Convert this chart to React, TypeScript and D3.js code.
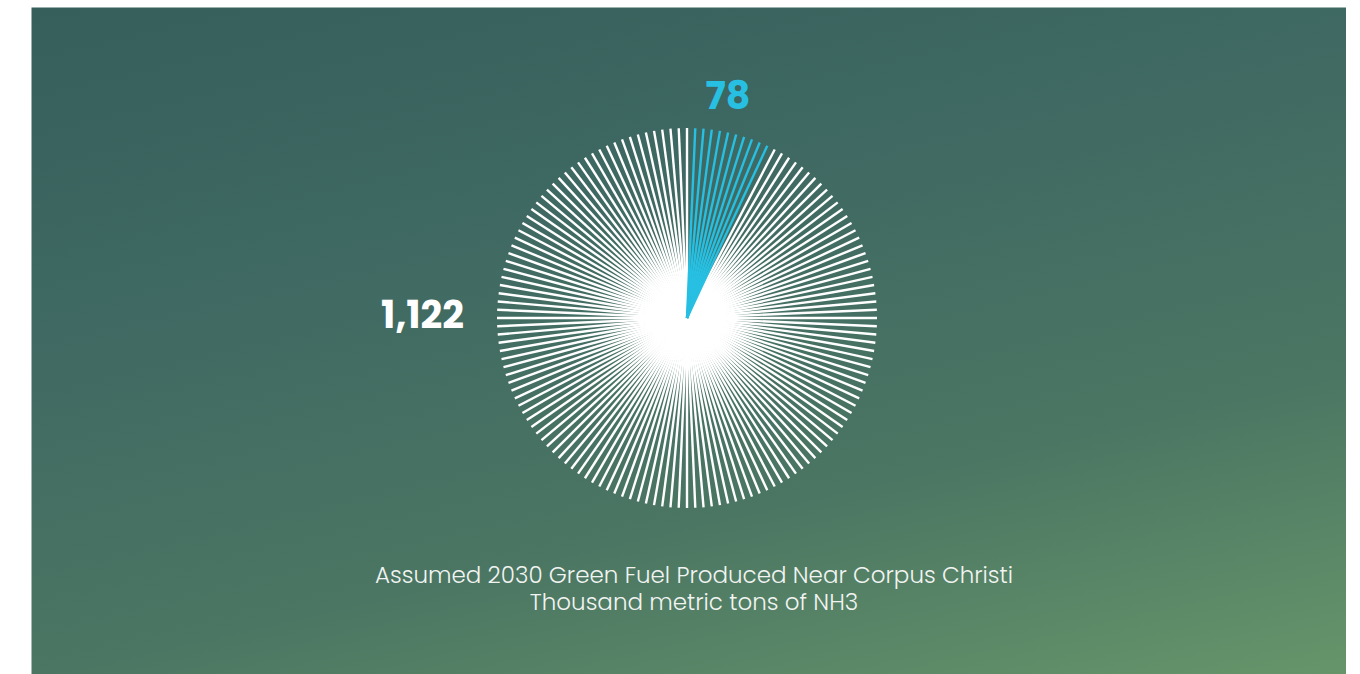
import React, { useEffect, useRef } from "react";
import * as d3 from "d3";

const categories = ["Other", "Corpus Christi"];
const values = [1122, 78];
const valueLabels = ["1,122", "78"];
const titleLines = [
  "Assumed 2030 Green Fuel Produced Near Corpus Christi",
  "Thousand metric tons of NH3",
];
const lineCount = 144;

const W = 1360;
const H = 674;

export default function App() {
  const ref = useRef<SVGSVGElement | null>(null);

  useEffect(() => {
    const svg = d3.select(ref.current);
    svg.selectAll("*").remove();

    const defs = svg.append("defs");
    const grad = defs
      .append("linearGradient")
      .attr("id", "bg")
      .attr("gradientUnits", "userSpaceOnUse")
      .attr("x1", 32)
      .attr("y1", 8)
      .attr("x2", 245)
      .attr("y2", 928);
    const stops: [number, string][] = [
      [0, "#365e5b"],
      [0.31, "#3e6862"],
      [0.69, "#4b7663"],
      [1, "#66956a"],
    ];
    stops.forEach(([o, c]) =>
      grad.append("stop").attr("offset", o).attr("stop-color", c)
    );

    svg
      .append("rect")
      .attr("x", 31.5)
      .attr("y", 7.5)
      .attr("width", 1314.5)
      .attr("height", 680)
      .attr("fill", "url(#bg)");

    const cx = 687;
    const cy = 318;
    const radius = 190;

    const total = d3.sum(values);
    const unit = total / lineCount;
    const angle = d3
      .scaleLinear()
      .domain([0, lineCount])
      .range([0, 2 * Math.PI]);
    const rScale = d3.scaleLinear().domain([0, 1]).range([0, radius]);

    const lines = d3.range(lineCount).map((j) => {
      const v = j * unit;
      const highlighted = v < values[1];
      return { a: angle(j + 1), highlighted };
    });

    const g = svg.append("g").attr("transform", `translate(${cx},${cy})`);
    const drawSet = (set: typeof lines, color: string) =>
      g
        .selectAll(null)
        .data(set)
        .enter()
        .append("line")
        .attr("x1", 0)
        .attr("y1", 0)
        .attr("x2", (d) => rScale(1) * Math.sin(d.a))
        .attr("y2", (d) => -rScale(1) * Math.cos(d.a))
        .attr("stroke", color)
        .attr("stroke-width", 2.4);

    drawSet(lines.filter((d) => !d.highlighted), "#ffffff");
    drawSet(lines.filter((d) => d.highlighted), "#27bfe2");

    const font = "Poppins, 'Open Sans', sans-serif";
    svg
      .append("text")
      .attr("x", 728)
      .attr("y", 109)
      .attr("text-anchor", "middle")
      .attr("font-family", font)
      .attr("font-weight", 700)
      .attr("font-size", 38)
      .attr("fill", "#27bfe2")
      .text(valueLabels[1]);

    svg
      .append("text")
      .attr("x", 464)
      .attr("y", 328)
      .attr("text-anchor", "end")
      .attr("font-family", font)
      .attr("font-weight", 700)
      .attr("font-size", 38)
      .attr("fill", "#ffffff")
      .text(valueLabels[0]);

    svg
      .selectAll(null)
      .data(titleLines)
      .enter()
      .append("text")
      .attr("x", 694)
      .attr("y", (_d, i) => 583 + i * 27)
      .attr("text-anchor", "middle")
      .attr("font-family", font)
      .attr("font-weight", 300)
      .attr("font-size", 23)
      .attr("fill", "#f2f4f2")
      .text((d) => d);

    svg.attr("aria-label", categories.join(" vs "));
  }, []);

  return (
    <svg
      ref={ref}
      width={W}
      height={H}
      style={{ position: "absolute", left: 0, top: 0, display: "block" }}
    />
  );
}
